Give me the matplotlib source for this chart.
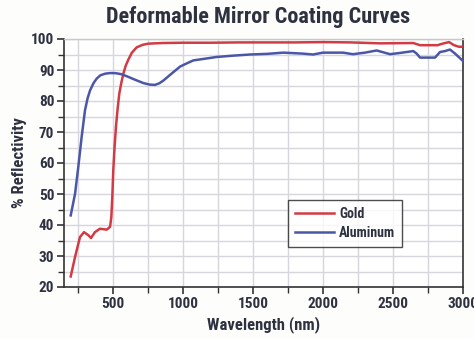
import matplotlib
matplotlib.use("Agg")
import matplotlib.pyplot as plt
from matplotlib import font_manager
from matplotlib.ticker import MultipleLocator

# ---- data ----
gold_wl = [198, 229, 264, 293, 324, 343, 371, 407, 455, 479, 488, 495, 502, 511, 521, 533, 545,
           560, 574, 590, 609, 635, 669, 710, 752, 850, 1000, 1200, 1400, 1600, 1800, 2000,
           2200, 2407, 2645, 2693, 2818, 2854, 2900, 2936, 2971, 3000]
gold_r = [23.4, 29.7, 36.1, 37.7, 36.7, 35.8, 37.7, 38.8, 38.5, 39.4, 42.5, 49.0, 57.6, 65.0,
          71.6, 77.5, 82.4, 86.0, 88.8, 91.3, 93.3, 95.6, 97.3, 98.1, 98.5, 98.7, 98.8, 98.8,
          98.9, 98.9, 98.9, 99.0, 98.9, 98.6, 98.7, 98.0, 98.0, 98.5, 99.0, 98.0, 97.5, 97.5]

alu_wl = [198, 229, 252, 276, 300, 318, 336, 360, 383, 410, 443, 475, 514, 555, 598, 650, 716,
          760, 800, 830, 860, 907, 979, 1030, 1074, 1150, 1240, 1350, 1479, 1600, 1717, 1850,
          1929, 2000, 2143, 2214, 2300, 2383, 2479, 2550, 2645, 2669, 2693, 2800, 2836, 2871,
          2907, 2943, 3000]
alu_r = [43.1, 50.1, 58.7, 68.4, 77.0, 80.8, 83.4, 85.7, 87.2, 88.3, 88.8, 89.0, 89.0, 88.7,
         88.0, 87.0, 85.8, 85.3, 85.2, 85.7, 86.6, 88.4, 91.1, 92.2, 93.1, 93.6, 94.2, 94.6,
         95.0, 95.2, 95.6, 95.3, 95.0, 95.6, 95.6, 95.1, 95.6, 96.3, 95.1, 95.5, 96.1, 95.3,
         94.0, 94.0, 95.8, 96.1, 96.6, 95.3, 92.9]

title = "Deformable Mirror Coating Curves"
xlabel = "Wavelength (nm)"
ylabel = "% Reflectivity"
series_names = ["Gold", "Aluminum"]

# ---- font ----
fam = "DejaVu Sans"
for cand in ["Liberation Sans Narrow", "Roboto Condensed", "Liberation Sans"]:
    try:
        font_manager.findfont(cand, fallback_to_default=False)
        fam = cand
        break
    except Exception:
        pass
plt.rcParams['font.family'] = [fam, 'DejaVu Sans']
plt.rcParams['font.weight'] = 'bold'

txt = '#2e3140'
fig = plt.figure(figsize=(4.74, 3.39), dpi=100, facecolor='#fdfdfb')
ax = fig.add_axes([64/474, 1-287/339, 399/474, 248/339])
ax.set_facecolor('white')

ax.plot(gold_wl, gold_r, color='#d23a44', lw=1.8, label=series_names[0], zorder=3,
        solid_joinstyle='round')
ax.plot(alu_wl, alu_r, color='#4b56a8', lw=1.8, label=series_names[1], zorder=3,
        solid_joinstyle='round')

ax.set_xlim(150, 3000)
ax.set_ylim(20, 100)
ax.xaxis.set_major_locator(MultipleLocator(500))
ax.xaxis.set_minor_locator(MultipleLocator(250))
ax.yaxis.set_major_locator(MultipleLocator(10))
ax.yaxis.set_minor_locator(MultipleLocator(5))
ax.grid(True, which='both', color='#d6d6dc', lw=1.0, zorder=0)
ax.set_axisbelow(True)

for s in ['left', 'bottom', 'right']:
    ax.spines[s].set_color('#333333')
    ax.spines[s].set_linewidth(1.2)
ax.spines['top'].set_color('#c8c8cc')
ax.spines['top'].set_linewidth(1.0)

ax.tick_params(axis='both', which='major', direction='out', length=5, width=1.2,
               color='#333333', labelsize=11, labelcolor=txt, pad=2)
ax.tick_params(axis='both', which='minor', direction='out', length=4, width=1.0,
               color='#333333')
ax.tick_params(axis='y', which='both', right=False)
for lab in ax.get_xticklabels() + ax.get_yticklabels():
    lab.set_fontweight('bold')

ax.set_xlabel(xlabel, fontsize=12, fontweight='bold', color=txt, labelpad=4)
ax.set_ylabel(ylabel, fontsize=12, fontweight='bold', color=txt, labelpad=3)
fig.text(258/474, 1-17/339, title, ha='center', va='center', fontsize=16,
         fontweight='bold', color=txt)

leg = ax.legend(loc='lower left', bbox_to_anchor=(0.561, 0.161), frameon=True,
                fancybox=False, edgecolor='#222222', fontsize=10, handlelength=2.8,
                borderpad=0.5, labelspacing=0.4, handletextpad=0.4, borderaxespad=0)
leg.get_frame().set_linewidth(1.0)
for t in leg.get_texts():
    t.set_color(txt)
    t.set_fontweight('bold')

fig.savefig("out.png", dpi=100, facecolor=fig.get_facecolor())
